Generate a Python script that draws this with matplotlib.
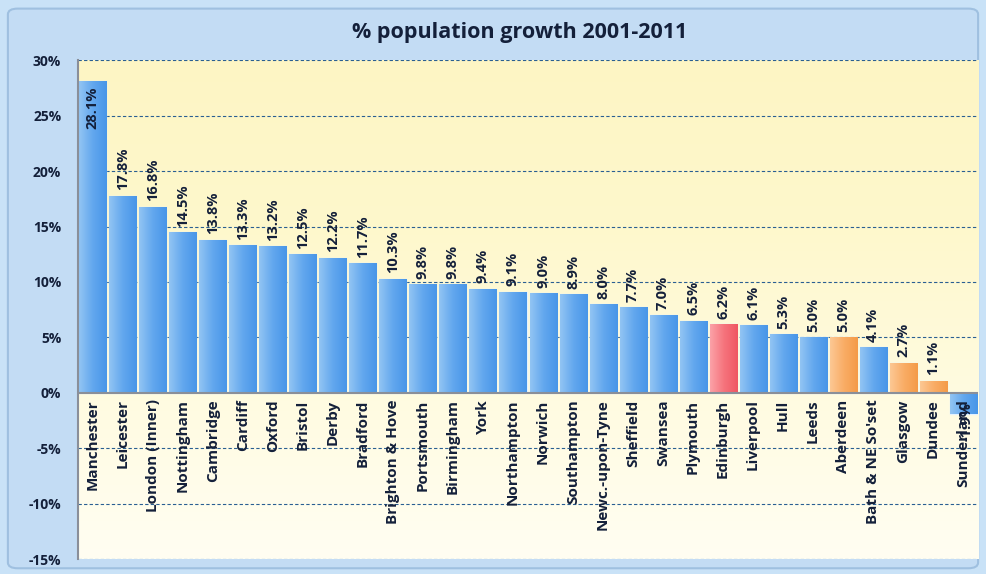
import matplotlib.pyplot as plt
import numpy as np
from matplotlib.colors import LinearSegmentedColormap
from matplotlib.patches import FancyBboxPatch

cities = ["Manchester", "Leicester", "London (Inner)", "Nottingham", "Cambridge",
          "Cardiff", "Oxford", "Bristol", "Derby", "Bradford", "Brighton & Hove",
          "Portsmouth", "Birmingham", "York", "Northampton", "Norwich",
          "Southampton", "Newc.-upon-Tyne", "Sheffield", "Swansea", "Plymouth",
          "Edinburgh", "Liverpool", "Hull", "Leeds", "Aberdeen", "Bath & NE So'set",
          "Glasgow", "Dundee", "Sunderland"]
growth = [28.1, 17.8, 16.8, 14.5, 13.8, 13.3, 13.2, 12.5, 12.2, 11.7, 10.3,
          9.8, 9.8, 9.4, 9.1, 9.0, 8.9, 8.0, 7.7, 7.0, 6.5, 6.2, 6.1, 5.3,
          5.0, 5.0, 4.1, 2.7, 1.1, -1.9]
highlight = {"Edinburgh": "red", "Aberdeen": "orange", "Glasgow": "orange",
             "Dundee": "orange"}

plt.rcParams['font.family'] = ['Open Sans', 'DejaVu Sans']
txt = '#14203a'

blue = LinearSegmentedColormap.from_list('b', ['#92c4f3', '#62a7ee', '#4896e8'])
red = LinearSegmentedColormap.from_list('r', ['#fba2a8', '#f6747d', '#ef5662'])
orange = LinearSegmentedColormap.from_list('o', ['#fcc894', '#f9ad66', '#f49b48'])
cmaps = {"red": red, "orange": orange}

fig = plt.figure(figsize=(9.86, 5.74), dpi=100, facecolor='#c9e2f7')
frame = FancyBboxPatch((0.008, 0.01), 0.984, 0.975, boxstyle="round,pad=0,rounding_size=0.01",
                       transform=fig.transFigure, facecolor='#c3dcf4',
                       edgecolor='#9fc0e0', linewidth=1.5, zorder=-5)
fig.patches.append(frame)

ax = fig.add_axes([0.079, 0.026, 0.913, 0.869])
ax.set_xlim(-0.5, len(cities) - 0.5)
ax.set_ylim(-15, 30)

# yellow panel background, paler towards the bottom
bg = LinearSegmentedColormap.from_list('y', ['#fffef2', '#fffbe0', '#fef8cc', '#fdf5c4'])
ax.imshow(np.linspace(0, 1, 256).reshape(-1, 1), cmap=bg, origin='lower',
          extent=[-0.5, len(cities) - 0.5, -15, 30], aspect='auto', zorder=0)

for y in range(-15, 31, 5):
    if y != 0:
        ax.axhline(y, color='#2a5f92', lw=0.8, ls=(0, (3, 2)), zorder=1)
ax.axhline(0, color='#8a8f99', lw=1.5, zorder=3)

width = 0.9
grad = np.linspace(0, 1, 64).reshape(1, -1)
x = np.arange(len(cities))
bars = ax.bar(x, growth, width=width, color='none', edgecolor='#e4f2ff', lw=1.0, zorder=2)
for xi, v, name, b in zip(x, growth, cities, bars):
    cm = cmaps.get(highlight.get(name), blue)
    im = ax.imshow(grad, cmap=cm, aspect='auto', zorder=2,
                   extent=[xi - width / 2, xi + width / 2, min(v, 0), max(v, 0)])
    im.set_clip_path(b)

    # value labels
    if name == "Manchester":
        ax.text(xi, v - 0.5, f"{v:.1f}%", rotation=90, ha='center', va='top',
                fontsize=10.5, fontweight='bold', color=txt, zorder=5)
    elif v < 0:
        ax.text(xi + 0.12, -0.8, f"{v:.1f}%", rotation=90, ha='center', va='top',
                fontsize=10.5, fontweight='bold', color=txt, zorder=5)
    else:
        ax.text(xi, v + 0.5, f"{v:.1f}%", rotation=90, ha='center', va='bottom',
                fontsize=10.5, fontweight='bold', color=txt, zorder=5)
    # category labels under the zero line
    ax.text(xi, -0.6, name, rotation=90, ha='center', va='top',
            fontsize=11, fontweight='bold', color=txt, zorder=5)

ax.set_xticks([])
ax.set_yticks(range(-15, 31, 5))
ax.set_yticklabels([f"{t}%" for t in range(-15, 31, 5)], fontsize=10,
                   fontweight='bold', color=txt)
ax.tick_params(axis='y', length=0, pad=12)
for s in ['top', 'right', 'bottom']:
    ax.spines[s].set_visible(False)
ax.spines['left'].set_color('#8a8f99')
ax.spines['left'].set_linewidth(1.5)

fig.text(0.527, 0.943, "% population growth 2001-2011", ha='center', va='center',
         fontsize=15.5, fontweight='bold', color=txt)

fig.savefig('out.png', dpi=100, facecolor=fig.get_facecolor())
